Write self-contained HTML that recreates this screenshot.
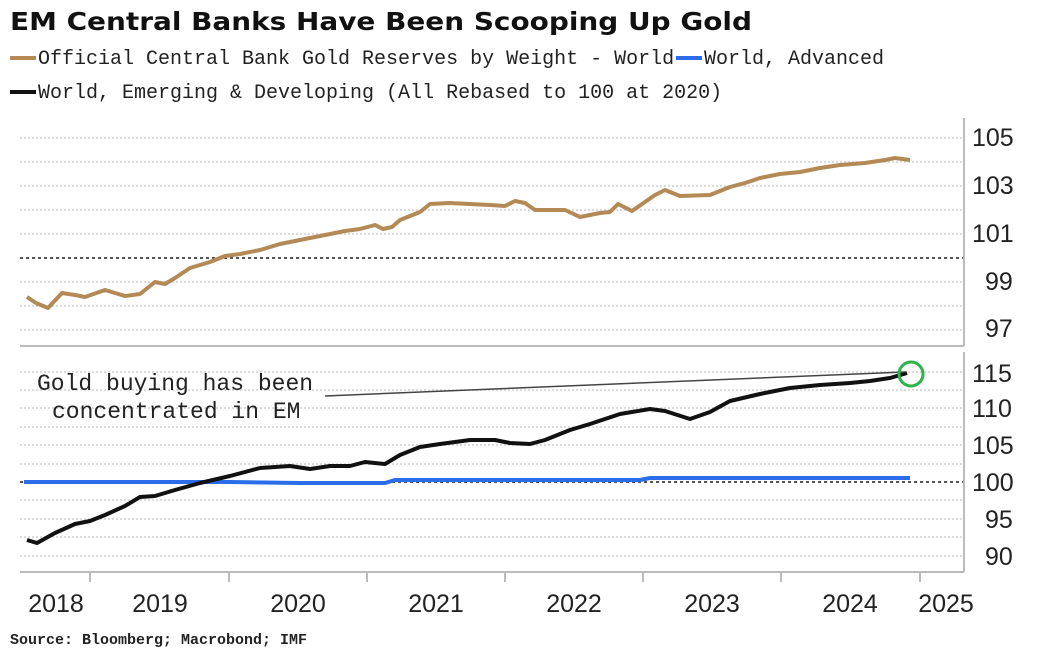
<!DOCTYPE html>
<html><head><meta charset="utf-8"><style>
html,body{margin:0;padding:0;background:#fff;}
svg{display:block;}
</style></head><body>
<svg width="1044" height="660" viewBox="0 0 1044 660" xmlns="http://www.w3.org/2000/svg">
<text x="10" y="30" font-family="DejaVu Sans, Liberation Sans, sans-serif" font-weight="bold" font-size="25" fill="#111" textLength="742" lengthAdjust="spacingAndGlyphs">EM Central Banks Have Been Scooping Up Gold</text>
<line x1="10" y1="58" x2="36" y2="58" stroke="#b38a56" stroke-width="4"/>
<text x="38" y="64" font-family="Liberation Mono, monospace" font-size="20" fill="#222">Official Central Bank Gold Reserves by Weight - World</text>
<line x1="676" y1="58" x2="702" y2="58" stroke="#2b6de8" stroke-width="4"/>
<text x="704" y="64" font-family="Liberation Mono, monospace" font-size="20" fill="#222">World, Advanced</text>
<line x1="10" y1="92" x2="36" y2="92" stroke="#111" stroke-width="4"/>
<text x="38" y="98" font-family="Liberation Mono, monospace" font-size="20" fill="#222">World, Emerging &amp; Developing (All Rebased to 100 at 2020)</text>

<g stroke="#cfcfcf" stroke-width="1.5" stroke-dasharray="2,2">
<line x1="20" y1="138" x2="964" y2="138"/><line x1="20" y1="162" x2="964" y2="162"/>
<line x1="20" y1="186" x2="964" y2="186"/><line x1="20" y1="210" x2="964" y2="210"/>
<line x1="20" y1="234" x2="964" y2="234"/><line x1="20" y1="282" x2="964" y2="282"/>
<line x1="20" y1="306" x2="964" y2="306"/><line x1="20" y1="330" x2="964" y2="330"/>
<line x1="20" y1="372" x2="964" y2="372"/><line x1="20" y1="390" x2="964" y2="390"/>
<line x1="20" y1="408" x2="964" y2="408"/><line x1="20" y1="427" x2="964" y2="427"/>
<line x1="20" y1="445" x2="964" y2="445"/><line x1="20" y1="464" x2="964" y2="464"/>
<line x1="20" y1="500" x2="964" y2="500"/><line x1="20" y1="519" x2="964" y2="519"/>
<line x1="20" y1="537" x2="964" y2="537"/><line x1="20" y1="556" x2="964" y2="556"/>
</g>
<g stroke="#555" stroke-width="2" stroke-dasharray="3,3">
<line x1="20" y1="258" x2="964" y2="258"/>
<line x1="20" y1="482" x2="964" y2="482"/>
</g>
<g stroke="#bbb" stroke-width="2" fill="none">
<line x1="20" y1="346" x2="964" y2="346"/>
<line x1="964" y1="118" x2="964" y2="346"/>
<line x1="20" y1="572" x2="964" y2="572"/>
<line x1="964" y1="352" x2="964" y2="572"/>
<line x1="90" y1="572" x2="90" y2="582"/><line x1="229" y1="572" x2="229" y2="582"/>
<line x1="367" y1="572" x2="367" y2="582"/><line x1="505" y1="572" x2="505" y2="582"/>
<line x1="643" y1="572" x2="643" y2="582"/><line x1="781" y1="572" x2="781" y2="582"/>
<line x1="920" y1="572" x2="920" y2="582"/>
</g>
<g font-family="Liberation Sans Narrow, Liberation Sans, sans-serif" font-size="25" fill="#222">
<text x="972" y="146">105</text><text x="972" y="194">103</text><text x="972" y="242">101</text>
<text x="985" y="290">99</text><text x="985" y="337">97</text>
<text x="972" y="382">115</text><text x="972" y="417">110</text><text x="972" y="454">105</text>
<text x="972" y="491">100</text><text x="985" y="528">95</text><text x="985" y="565">90</text>
<g text-anchor="middle">
<text x="56" y="612">2018</text><text x="160" y="612">2019</text><text x="298" y="612">2020</text>
<text x="436" y="612">2021</text><text x="574" y="612">2022</text><text x="712" y="612">2023</text>
<text x="850" y="612">2024</text><text x="946" y="612">2025</text>
</g></g>

<polyline fill="none" stroke="#b38a56" stroke-width="4" stroke-linejoin="round" points="27,297 36,303 48,308 62,293 75,295 85,297 105,290 115,293 125,296 140,294 155,282 165,284 175,278 190,268 210,262 225,256 240,254 260,250 280,244 300,240 320,236 345,231 360,229 375,225 383,229 392,227 400,220 420,212 430,204 450,203 470,204 490,205 505,206 515,201 525,203 535,210 565,210 580,217 600,213 610,212 618,204 632,211 655,195 665,190 680,196 710,195 730,187 745,183 760,178 780,174 800,172 820,168 840,165 865,163 885,160 895,158 910,160"/>
<polyline fill="none" stroke="#2b6de8" stroke-width="4" points="24,482 230,482 300,483 385,483 395,480 640,480 650,478 910,478"/>
<polyline fill="none" stroke="#111" stroke-width="4" stroke-linejoin="round" points="27,540 37,543 55,533 75,524 90,521 105,515 125,506 140,497 155,496 175,490 200,483 230,476 260,468 290,466 310,469 330,466 350,466 365,462 385,464 400,455 420,447 440,444 470,440 495,440 510,443 530,444 545,440 570,430 590,424 620,414 650,409 665,411 690,419 710,412 730,401 760,394 790,388 820,385 850,383 870,381 890,378 907,373"/>
<line x1="325" y1="396" x2="905" y2="372" stroke="#444" stroke-width="1.5"/>
<circle cx="911" cy="374" r="12" fill="none" stroke="#2db34a" stroke-width="3"/>
<g font-family="Liberation Mono, monospace" font-size="23" fill="#222">
<text x="37" y="390">Gold buying has been</text>
<text x="52" y="418">concentrated in EM</text>
</g>
<text x="10" y="644" font-family="Liberation Mono, monospace" font-weight="bold" font-size="15" fill="#222">Source: Bloomberg; Macrobond; IMF</text>
</svg>
</body></html>
